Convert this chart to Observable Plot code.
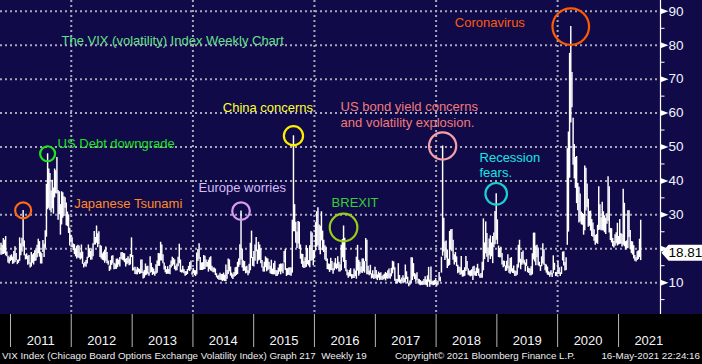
<!DOCTYPE html>
<html><head><meta charset="utf-8">
<script src="https://cdn.jsdelivr.net/npm/d3@7"></script>
<script src="https://cdn.jsdelivr.net/npm/@observablehq/plot@0.6"></script>
<style>
html,body{margin:0;padding:0;background:#000;}
#chart{position:relative;width:702px;height:364px;overflow:hidden;font-family:"Liberation Sans",Arial,sans-serif;background:#000;}
#chart svg{display:block;}
#footer{position:absolute;left:0;top:348px;width:702px;height:16px;line-height:16px;font-size:9.8px;color:#ececf2;}
#footer span{position:absolute;top:0;white-space:nowrap;}
</style></head><body>
<div id="chart"><div id="footer">
<span style="left:2px">VIX Index (Chicago Board Options Exchange Volatility Index) Graph 217&nbsp; Weekly 19</span>
<span style="left:395px">Copyright© 2021 Bloomberg Finance L.P.</span>
<span style="right:2px">16-May-2021 22:24:16</span>
</div></div>
<script>
// ---- Weekly VIX ranges [low, high], one row per month (weeks ending Friday) ----
const vix2010 = [ // from November
  [[18.1,21.6],[18.2,21.0],[18.3,23.0],[18.5,22.5]],
  [[17.9,23.6],[17.6,19.0],[15.8,17.8],[15.5,17.3],[16.2,17.9]]
];
const vix2011 = [
  [[16.5,18.2],[15.4,17.5],[15.6,19.2],[15.9,20.6]],
  [[16.5,18.6],[15.3,16.6],[15.7,16.7],[16.3,23.2]],
  [[17.9,21.5],[19.0,23.1],[20.5,31.3],[17.9,22.3]],
  [[16.7,18.2],[16.8,18.5],[15.1,17.8],[15.4,18.0],[14.3,15.8]],
  [[14.6,18.9],[15.7,18.2],[15.2,18.6],[16.2,19.4]],
  [[16.4,19.6],[17.3,21.0],[18.5,22.8],[17.5,22.1]],
  [[15.5,19.0],[15.5,18.5],[18.9,22.4],[17.4,21.3],[20.1,25.3]],
  [[23.4,39.0],[31.5,48.0],[31.9,43.5],[31.2,42.2]],
  [[30.5,37.0],[31.8,40.2],[30.2,37.9],[35.0,43.5],[36.2,43.0]],
  [[36.1,46.9],[28.4,37.2],[30.0,36.8],[24.0,33.0]],
  [[27.0,36.8],[29.0,36.5],[29.5,35.3],[31.9,35.0]],
  [[26.8,33.5],[26.5,30.8],[24.5,30.0],[20.8,26.0],[22.0,24.0]]
];
const vix2012 = [
  [[20.3,23.2],[19.5,21.4],[18.3,21.2],[17.6,19.9]],
  [[17.0,20.7],[17.3,21.0],[17.1,20.8],[16.7,18.8]],
  [[17.0,21.1],[15.4,19.0],[14.3,15.6],[14.8,16.0],[14.5,16.5]],
  [[15.5,17.5],[17.2,21.1],[17.4,20.0],[16.6,19.2]],
  [[16.7,19.7],[17.6,21.5],[21.1,25.1],[21.1,23.3]],
  [[21.6,26.7],[20.3,24.4],[21.2,25.0],[17.4,21.0],[17.0,20.7]],
  [[16.6,18.5],[16.4,19.0],[15.7,19.6],[16.3,20.5]],
  [[15.6,18.9],[15.1,16.4],[13.3,14.9],[13.7,16.5],[15.1,17.8]],
  [[15.6,17.9],[13.8,15.7],[13.9,15.5],[13.9,16.9]],
  [[14.4,17.0],[15.2,16.6],[14.6,17.4],[16.9,18.8]],
  [[16.6,18.9],[16.4,18.6],[15.9,18.5],[14.6,16.9],[15.3,17.1]],
  [[15.6,17.6],[15.0,17.0],[15.2,18.3],[17.4,23.2]]
];
const vix2013 = [
  [[13.4,18.0],[13.5,14.3],[12.4,14.5],[12.3,13.7]],
  [[12.3,14.5],[12.9,14.1],[12.4,13.9],[12.6,16.7]],
  [[12.7,16.7],[11.1,13.1],[11.3,13.6],[12.0,15.5],[12.2,14.7]],
  [[12.5,14.8],[11.9,12.9],[12.8,17.6],[13.0,15.7]],
  [[12.1,14.4],[12.4,14.0],[11.9,13.2],[12.5,15.3],[12.8,16.4]],
  [[14.8,18.6],[14.8,18.5],[16.4,21.9],[16.4,21.1]],
  [[15.6,18.2],[13.7,15.8],[12.9,14.8],[12.4,13.8]],
  [[12.5,14.7],[12.5,13.9],[12.3,15.1],[14.3,16.4],[14.8,17.5]],
  [[15.2,17.1],[13.8,16.7],[13.4,14.8],[13.5,15.5]],
  [[14.7,17.5],[15.6,21.3],[13.0,16.7],[12.8,13.7]],
  [[12.9,14.8],[12.6,13.9],[11.9,13.3],[12.1,13.2],[12.4,13.9]],
  [[13.5,14.8],[13.3,15.9],[13.7,16.4],[12.2,13.1]]
];
const vix2014 = [
  [[12.6,14.2],[12.1,13.6],[11.8,13.5],[12.3,18.7],[16.2,19.8]],
  [[16.9,21.5],[13.6,17.4],[13.6,15.8],[13.6,15.9]],
  [[13.8,18.0],[13.9,17.8],[14.5,16.7],[14.5,15.9]],
  [[13.1,16.6],[13.8,17.3],[13.4,17.6],[13.2,14.8]],
  [[12.9,14.3],[12.9,14.3],[12.1,14.0],[11.4,12.6],[11.0,11.9]],
  [[10.7,12.2],[10.7,12.8],[10.6,12.4],[10.3,12.4]],
  [[10.5,12.8],[10.3,12.2],[10.3,15.2],[11.0,13.6]],
  [[12.4,17.0],[13.2,16.7],[11.9,14.6],[11.3,12.8],[10.9,12.3]],
  [[11.6,13.0],[11.8,14.4],[12.1,14.5],[12.4,16.0]],
  [[14.5,17.0],[15.1,21.2],[16.7,31.1],[14.3,19.9],[13.3,16.4]],
  [[13.4,16.2],[12.6,14.6],[12.8,14.8],[12.0,13.5]],
  [[12.6,15.4],[13.5,21.6],[17.1,25.2],[14.8,17.4]]
];
const vix2015 = [
  [[14.6,19.2],[16.3,21.1],[19.1,23.3],[15.4,19.6],[16.4,21.9]],
  [[16.6,21.1],[15.6,20.0],[14.3,16.5],[13.1,14.6]],
  [[13.1,16.0],[14.4,17.6],[13.2,17.2],[13.5,17.0]],
  [[13.9,16.0],[12.6,14.8],[12.4,16.6],[12.3,14.0]],
  [[12.3,15.6],[12.3,16.3],[11.8,13.6],[11.8,13.5],[12.3,14.3]],
  [[13.1,15.3],[12.3,15.5],[13.1,15.4],[12.6,15.6]],
  [[15.8,19.2],[13.6,19.8],[11.8,14.1],[12.1,14.1],[12.2,14.3]],
  [[12.0,14.4],[11.9,14.3],[12.8,28.4],[25.0,53.3]],
  [[25.0,33.0],[21.6,27.8],[20.1,24.9],[21.4,28.0]],
  [[19.8,27.8],[16.9,21.1],[15.4,18.4],[14.4,18.3],[14.2,16.2]],
  [[14.3,17.3],[14.5,20.9],[15.3,20.1],[14.9,16.5]],
  [[14.4,20.9],[16.3,25.0],[16.5,24.6],[15.0,19.5]]
];
const vix2016 = [
  [[17.0,19.4],[19.3,27.7],[20.4,30.9],[20.9,32.1],[19.5,27.0]],
  [[18.2,26.6],[22.3,30.9],[19.4,25.2],[18.9,22.5]],
  [[16.7,20.9],[16.2,20.4],[13.9,17.0],[13.7,15.5]],
  [[13.0,15.4],[13.6,17.2],[13.5,16.2],[12.5,14.1],[13.5,15.8]],
  [[14.1,17.1],[13.8,15.5],[14.2,17.6],[13.1,16.0]],
  [[13.1,15.3],[13.5,21.0],[17.3,22.7],[16.0,26.7]],
  [[14.1,23.1],[13.2,16.5],[12.0,13.7],[11.3,12.9],[11.7,13.6]],
  [[11.7,14.1],[11.0,12.4],[11.2,12.3],[11.2,14.0]],
  [[11.7,13.4],[11.0,17.5],[13.4,21.0],[11.9,16.6],[12.5,16.0]],
  [[12.9,14.6],[12.7,17.0],[13.2,17.0],[12.8,16.2]],
  [[16.2,23.0],[12.3,22.5],[12.3,14.8],[12.0,13.4]],
  [[12.3,15.1],[11.1,12.6],[11.3,13.5],[10.9,12.3],[11.2,14.5]]
];
const vix2017 = [
  [[11.0,13.6],[10.6,12.3],[11.3,13.1],[10.6,12.7]],
  [[10.8,12.9],[10.6,11.8],[10.8,12.2],[11.0,12.5]],
  [[10.5,13.0],[11.1,12.7],[11.0,13.5],[11.2,14.0],[11.0,12.6]],
  [[11.7,14.2],[12.6,16.3],[13.7,16.1],[10.4,14.4]],
  [[9.6,11.0],[9.6,10.9],[10.1,15.6],[9.8,12.1]],
  [[9.7,10.8],[10.2,11.4],[9.7,12.0],[9.9,11.3],[10.0,15.2]],
  [[10.9,13.2],[9.6,11.6],[8.8,9.8],[9.2,10.5]],
  [[9.8,17.3],[10.6,17.3],[11.7,15.6],[10.9,12.7]],
  [[10.1,12.3],[10.7,12.9],[9.6,11.0],[9.3,10.9],[9.1,10.6]],
  [[9.2,10.2],[9.2,10.4],[9.2,10.9],[9.3,11.7]],
  [[9.1,10.8],[8.6,12.0],[10.1,14.5],[8.6,10.8]],
  [[9.4,14.6],[9.2,10.4],[9.1,10.4],[9.2,10.6],[9.3,11.2]]
];
const vix2018 = [
  [[8.9,10.0],[9.2,10.4],[10.4,13.0],[10.2,11.6]],
  [[12.8,17.5],[17.8,50.3],[19.0,29.0],[16.5,22.0]],
  [[17.2,22.3],[14.2,19.6],[14.8,16.9],[15.1,25.1],[19.6,25.6]],
  [[19.1,25.7],[16.6,22.5],[15.2,18.2],[15.9,18.9]],
  [[14.7,17.6],[12.6,15.1],[12.9,14.6],[12.2,14.4]],
  [[12.3,17.7],[11.6,13.5],[11.7,13.6],[11.9,14.4],[13.3,17.7]],
  [[13.8,16.2],[12.2,14.0],[11.9,13.4],[11.7,13.5]],
  [[11.9,13.8],[10.6,14.6],[12.0,14.8],[11.9,13.2],[11.8,14.3]],
  [[12.7,15.4],[11.9,14.0],[11.3,12.3],[11.3,12.7]],
  [[11.3,16.0],[13.5,28.8],[16.8,21.7],[18.5,27.9]],
  [[17.5,24.5],[15.9,20.2],[17.9,22.9],[16.8,23.8],[17.6,21.7]],
  [[15.6,23.6],[20.3,24.6],[21.2,31.0],[22.5,36.2]]
];
const vix2019 = [
  [[21.2,28.5],[17.4,20.8],[17.3,20.1],[17.3,20.4]],
  [[15.2,18.6],[14.4,16.4],[14.7,16.3],[13.3,14.9]],
  [[13.4,16.3],[14.1,18.2],[12.8,14.8],[12.5,17.1],[13.1,17.4]],
  [[12.7,14.1],[12.6,14.9],[11.8,13.5],[11.9,13.3]],
  [[12.2,15.3],[14.3,21.0],[15.8,22.5],[13.8,16.9],[15.1,18.9]],
  [[15.6,19.3],[15.2,16.6],[13.2,15.8],[14.8,16.8]],
  [[12.9,14.7],[12.7,14.2],[12.0,14.0],[12.0,14.7]],
  [[12.3,18.5],[16.7,24.6],[16.1,24.6],[15.0,20.8],[17.3,21.0]],
  [[15.0,20.2],[14.7,16.0],[13.3,15.0],[14.7,17.6]],
  [[15.5,21.5],[15.1,19.7],[13.5,15.4],[12.8,15.2]],
  [[12.2,14.6],[12.1,13.2],[11.6,12.9],[12.2,13.5],[11.5,12.8]],
  [[12.6,17.9],[13.6,15.7],[11.8,13.0],[11.9,13.0]]
];
const vix2020 = [
  [[12.4,16.2],[12.4,14.4],[11.8,12.9],[12.4,14.6],[16.4,19.0]],
  [[14.9,19.1],[13.4,15.9],[13.6,17.3],[21.0,49.5]],
  [[24.9,54.4],[40.8,77.6],[57.1,85.5],[61.6,72.0]],
  [[44.6,58.5],[40.6,50.7],[37.8,46.9],[33.3,47.2]],
  [[31.2,39.2],[27.6,38.1],[27.9,36.1],[27.1,30.8],[26.9,30.4]],
  [[24.0,30.1],[25.3,44.4],[31.1,43.7],[32.1,39.1]],
  [[26.3,34.6],[26.6,31.0],[25.2,31.1],[23.6,28.6],[23.4,27.6]],
  [[22.2,25.6],[21.0,23.9],[21.6,24.2],[21.3,26.9]],
  [[25.4,38.3],[25.6,33.0],[25.3,29.1],[25.3,33.7]],
  [[25.2,30.9],[24.7,29.7],[24.2,29.0],[27.2,30.3],[28.1,41.2]],
  [[24.6,38.3],[22.4,26.0],[21.7,25.9],[20.6,23.0]],
  [[20.2,22.1],[20.7,24.1],[21.5,24.7],[20.8,27.5]]
];
const vix2021 = [
  [[21.1,23.6],[21.3,28.6],[21.3,24.5],[20.5,24.2],[21.0,37.5]],
  [[20.6,33.4],[19.6,22.1],[19.9,22.3],[20.1,31.2]],
  [[23.3,31.2],[19.8,25.4],[18.6,22.1],[18.1,22.0]],
  [[17.0,20.9],[16.3,18.0],[16.1,17.3],[16.5,19.1],[16.8,19.4]],
  [[17.4,22.8],[16.5,28.4]]
];
const lastClose = 18.81;

// ---- Event annotations ----
const eventNames = ["Japanese Tsunami","US Debt downgrade","Europe worries","China concerns","BREXIT","US bond yield concerns\nand volatility explosion.","Recession\nfears.","Coronavirus"];
const eventWeeks = ["2011-03-18","2011-08-12","2014-10-17","2015-08-28","2016-06-24","2018-02-09","2018-12-28","2020-03-20"];
const eventPeaks = [31.3, 48.0, 31.1, 53.3, 26.7, 50.3, 36.2, 85.5];

// ---- Axis values ----
const majorTicks = [10,20,30,40,50,60,70,80,90];
const minorTicks = [5,15,25,35,45,55,65,75,85];
const labelTicks = [10,30,40,50,60,70,80,90]; // 20 is hidden behind the last-value tag
const tickYears = [2011,2012,2013,2014,2015,2016,2017,2018,2019,2020,2021];
const gridYears = [2012,2014,2016,2018,2020];
const titleText = "The VIX (volatility) Index Weekly Chart";

// ---- Build weekly table ----
const yearBlocks = [[2010,11,vix2010],[2011,1,vix2011],[2012,1,vix2012],[2013,1,vix2013],[2014,1,vix2014],[2015,1,vix2015],[2016,1,vix2016],[2017,1,vix2017],[2018,1,vix2018],[2019,1,vix2019],[2020,1,vix2020],[2021,1,vix2021]];
const weeks = [];
for (const [yr, m0, rows] of yearBlocks) {
  rows.forEach((row, i) => {
    const m = m0 - 1 + i;
    const dow = new Date(Date.UTC(yr, m, 1)).getUTCDay();
    const firstFri = 1 + ((5 - dow + 7) % 7);
    row.forEach(([lo, hi], j) => weeks.push({date: new Date(Date.UTC(yr, m, firstFri + 7*j)), low: lo, high: hi}));
  });
}
const events = eventNames.map((n, i) => ({name: n, date: new Date(eventWeeks[i] + "T00:00:00Z"), value: eventPeaks[i]}));

// styling for annotations
const evStyle = {
  "Japanese Tsunami": {c:"#ff6a1a", t:"#ff8a28", r:8, dx:51, dy:-7},
  "US Debt downgrade": {c:"#1ee41e", t:"#22e022", r:7.5, dx:10, dy:-10},
  "Europe worries": {c:"#d69cf2", t:"#d4bdf6", r:8.8, dx:-42.5, dy:-23.6},
  "China concerns": {c:"#ffee00", t:"#ffff30", r:9.6, dx:-70.7, dy:-28.3},
  "BREXIT": {c:"#9acd1a", t:"#38cc38", r:13.8, dx:-12, dy:-23.5, cdy:1.5},
  "US bond yield concerns\nand volatility explosion.": {c:"#f5a0aa", t:"#f27a7a", r:13.6, dx:-102, dy:-32.5, lh:1.23},
  "Recession\nfears.": {c:"#1ccfcf", t:"#19e6e6", r:10.8, dx:-16.7, dy:-28.8, lh:1.15},
  "Coronavirus": {c:"#ff5a00", t:"#ff5a0a", r:18.3, dx:-116, dy:-4}
};

const navy = "#100b48";
const grid = "#a8a8b8";
const xStart = new Date(Date.UTC(2010,10,2)), xEnd = new Date(Date.UTC(2021,8,10));
const yearStart = y => new Date(Date.UTC(y,0,1));
const yearMid = y => new Date(Date.UTC(y,6,2));

const triangle = {draw(ctx){ctx.moveTo(0,-3);ctx.lineTo(8,0);ctx.lineTo(0,3);ctx.closePath();}};
const minorTick = {draw(ctx){ctx.moveTo(0,-0.5);ctx.lineTo(4,-0.5);ctx.lineTo(4,0.5);ctx.lineTo(0,0.5);ctx.closePath();}};
const tag = {draw(ctx){ctx.moveTo(1,0);ctx.lineTo(8,-8);ctx.lineTo(43,-8);ctx.lineTo(43,8);ctx.lineTo(8,8);ctx.closePath();}};

const eventMarks = [];
for (const e of events) {
  const s = evStyle[e.name];
  eventMarks.push(Plot.dot([e], {x:"date", y:"value", r:s.r, stroke:s.c, strokeWidth:2.2, fill:"none", dy:s.cdy||0}));
  eventMarks.push(Plot.text([e], {x:"date", y:"value", text:"name", dx:s.dx, dy:s.dy, textAnchor:"start", lineAnchor:"middle", fill:s.t, fontSize:13, lineHeight:s.lh||1}));
}

const chart = Plot.plot({
  width: 702, height: 348,
  marginLeft: 0, marginRight: 42, marginTop: 0, marginBottom: 34,
  style: {background:`linear-gradient(to bottom, ${navy} 0px, ${navy} 314px, #000 314px, #000 348px)`, fontFamily:'"Liberation Sans", Arial, sans-serif', overflow:"visible"},
  x: {type:"utc", domain:[xStart, xEnd], axis:null},
  y: {domain:[0.6, 93.2], axis:null},
  marks: [
    Plot.ruleY(majorTicks, {stroke:grid, strokeWidth:2, strokeDasharray:"2,3"}),
    Plot.ruleX(gridYears.map(yearStart), {stroke:grid, strokeWidth:2, strokeDasharray:"2,3"}),
    Plot.ruleX(weeks, {x:"date", y1:"low", y2:"high", stroke:"white", strokeWidth:1.45}),
    ...eventMarks,
    Plot.text([titleText], {frameAnchor:"top-left", dx:61, dy:40, textAnchor:"start", lineAnchor:"middle", fill:"#66e08c", fontSize:13}),
    Plot.ruleX([xEnd], {stroke:"white", strokeWidth:1.2}),
    Plot.dot(majorTicks, {y:d=>d, frameAnchor:"right", symbol:triangle, fill:"white", stroke:"none"}),
    Plot.dot(minorTicks, {y:d=>d, frameAnchor:"right", symbol:minorTick, fill:"white", stroke:"none"}),
    Plot.axisY(labelTicks, {anchor:"right", tickSize:0, tickPadding:8, fontSize:13.5, fill:"#f0f3ff", label:null}),
    Plot.axisX(tickYears.map(yearStart), {anchor:"bottom", tickSize:33, tickFormat:()=>"", stroke:"#b8b8b8", label:null}),
    Plot.axisX(tickYears.map(yearMid), {anchor:"bottom", tickSize:0, tickPadding:21, tickFormat:d=>String(d.getUTCFullYear()), fill:"#f4f4f8", fontSize:13, label:null}),
    Plot.dot([lastClose], {y:d=>d, frameAnchor:"right", symbol:tag, fill:"white", stroke:"none"}),
    Plot.text([lastClose], {y:d=>d, frameAnchor:"right", dx:8, text:d=>d.toFixed(2), textAnchor:"start", fill:"#000", fontSize:13.5})
  ]
});
document.getElementById("chart").prepend(chart);
</script>
</body></html>
